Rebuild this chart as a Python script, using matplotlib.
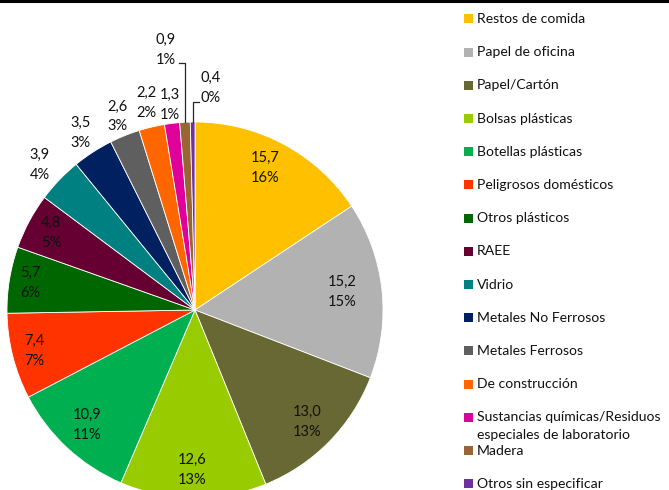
import numpy as np
import matplotlib
matplotlib.use("Agg")
import matplotlib.pyplot as plt
from matplotlib.lines import Line2D
from matplotlib.patches import Rectangle

categories = ["Restos de comida", "Papel de oficina", "Papel/Cartón", "Bolsas plásticas",
              "Botellas plásticas", "Peligrosos domésticos", "Otros plásticos", "RAEE",
              "Vidrio", "Metales No Ferrosos", "Metales Ferrosos", "De construcción",
              "Sustancias químicas/Residuos\nespeciales de laboratorio", "Madera",
              "Otros sin especificar"]
values = [15.7, 15.2, 13.0, 12.6, 10.9, 7.4, 5.7, 4.8, 3.9, 3.5, 2.6, 2.2, 1.3, 0.9, 0.4]
value_labels = ["15,7", "15,2", "13,0", "12,6", "10,9", "7,4", "5,7", "4,8", "3,9", "3,5",
                "2,6", "2,2", "1,3", "0,9", "0,4"]
pct_labels = ["16%", "15%", "13%", "13%", "11%", "7%", "6%", "5%", "4%", "3%",
              "3%", "2%", "1%", "1%", "0%"]
colors = ["#FFC000", "#B2B2B2", "#686834", "#99CC00", "#00B050", "#FF3300", "#006600",
          "#660033", "#008080", "#002060", "#5F5F5F", "#FF6600", "#E0009A", "#996633",
          "#7030A0"]

W, H = 669, 490
FONT = "Lato"
TXT = "#111111"

fig = plt.figure(figsize=(W / 100, H / 100), dpi=100)
ax = fig.add_axes([0, 0, 1, 1])

cx, cy, R = 195, H - 310, 188
wedges, _ = ax.pie(values, colors=colors, startangle=90, counterclock=False,
                   center=(cx, cy), radius=R, frame=True,
                   wedgeprops=dict(edgecolor="white", linewidth=0.6))
ax.set_xlim(0, W)
ax.set_ylim(0, H)
ax.set_aspect("equal")
ax.axis("off")

# label radius fractions (layout)
rfrac = [0.84, 0.79, 0.84, 0.85, 0.84, 0.88, 0.89, 0.87, 1.13, 1.12, 1.11, 1.13, 1.10]
aoff = [2.0, 0.8, -0.5, -0.5, -0.5, 0.0, 0.0, 0.0, 0.8, 0.0, 0.0, 0.0, 0.0]
fs = 10.5
ls = 1.55
for i, w in enumerate(wedges):
    mid = np.deg2rad((w.theta1 + w.theta2) / 2)
    if i < len(rfrac):
        a = mid + np.deg2rad(aoff[i])
        x = cx + R * rfrac[i] * np.cos(a)
        y = cy + R * rfrac[i] * np.sin(a)
        ax.text(x, y, value_labels[i] + "\n" + pct_labels[i], ha="center", va="center",
                fontsize=fs, family=FONT, color=TXT, linespacing=ls)

# leader-labelled small slices
mid13 = np.deg2rad((wedges[13].theta1 + wedges[13].theta2) / 2)
ex, ey = cx + R * np.cos(mid13), cy + R * np.sin(mid13)
ax.add_line(Line2D([ex, ex, ex - 6], [ey, H - 63, H - 63], color="#262626", lw=0.9))
ax.text(ex - 19, H - 50, value_labels[13] + "\n" + pct_labels[13], ha="center", va="center",
        fontsize=fs, family=FONT, color=TXT, linespacing=ls)

mid14 = np.deg2rad((wedges[14].theta1 + wedges[14].theta2) / 2)
ex, ey = cx + R * np.cos(mid14), cy + R * np.sin(mid14)
ax.add_line(Line2D([ex, ex, ex + 6], [ey, H - 102, H - 102], color="#262626", lw=0.9))
ax.text(ex + 18, H - 88, value_labels[14] + "\n" + pct_labels[14], ha="center", va="center",
        fontsize=fs, family=FONT, color=TXT, linespacing=ls)

# legend (manual)
y0, dy = 19, 33.2
for i, (lab, col) in enumerate(zip(categories, colors)):
    yr = y0 + i * dy
    ax.add_patch(Rectangle((464, H - yr - 4.5), 9, 9, facecolor=col, edgecolor="none"))
    for k, line in enumerate(lab.split("\n")):
        ax.text(477, H - yr - k * 18, line, ha="left", va="center", fontsize=10.1,
                family=FONT, color=TXT)

# top border line
ax.add_line(Line2D([0, W], [H - 1.5, H - 1.5], color="black", lw=2.2))

fig.savefig("out.png", dpi=100)
